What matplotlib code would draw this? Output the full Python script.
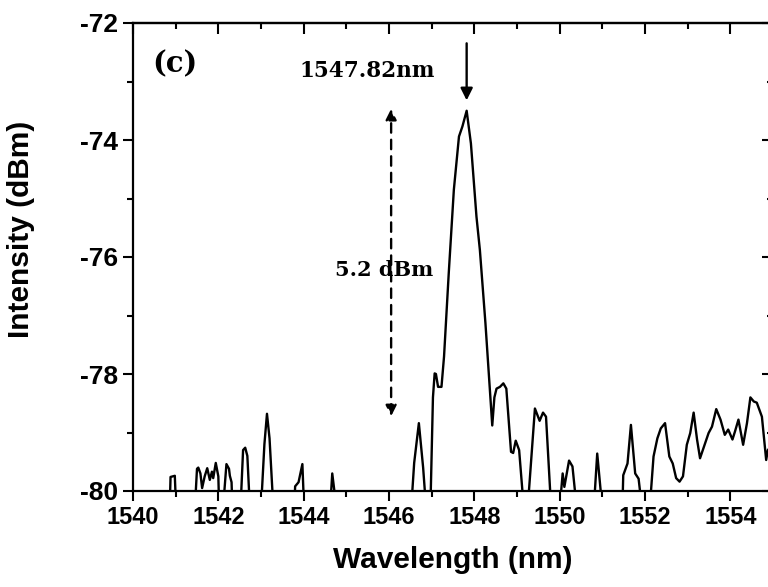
import numpy as np
import matplotlib.pyplot as plt
from matplotlib.ticker import MultipleLocator

plt.rcParams['axes.unicode_minus'] = False

# spectrum (values below -80 are clipped by the axis)
wavelength = [1540.0, 1540.86, 1540.88, 1540.98, 1541.01, 1541.45, 1541.50, 1541.53, 1541.58,
              1541.62, 1541.68, 1541.74, 1541.80, 1541.85, 1541.88, 1541.94, 1542.00, 1542.02,
              1542.11, 1542.19, 1542.25, 1542.27, 1542.31, 1542.33, 1542.52, 1542.58, 1542.63,
              1542.68, 1542.74, 1543.00, 1543.08, 1543.14, 1543.20, 1543.29, 1543.78, 1543.80,
              1543.88, 1543.97, 1544.01, 1544.62, 1544.67, 1544.72, 1544.74, 1546.52, 1546.59,
              1546.70, 1546.80, 1546.87, 1546.97, 1547.03, 1547.07, 1547.10, 1547.15, 1547.23,
              1547.29, 1547.40, 1547.52, 1547.62, 1547.64, 1547.72, 1547.82, 1547.92, 1548.05,
              1548.13, 1548.26, 1548.42, 1548.47, 1548.52, 1548.60, 1548.68, 1548.75, 1548.86,
              1548.91, 1548.97, 1549.05, 1549.16, 1549.25, 1549.42, 1549.53, 1549.61, 1549.68,
              1549.80, 1550.00, 1550.07, 1550.11, 1550.22, 1550.30, 1550.40, 1550.80, 1550.88,
              1551.00, 1551.47, 1551.49, 1551.59, 1551.67, 1551.77, 1551.85, 1551.93, 1552.11,
              1552.20, 1552.29, 1552.37, 1552.47, 1552.57, 1552.65, 1552.73, 1552.81, 1552.89,
              1552.98, 1553.06, 1553.14, 1553.22, 1553.29, 1553.37, 1553.49, 1553.57, 1553.67,
              1553.77, 1553.87, 1553.95, 1554.05, 1554.11, 1554.19, 1554.30, 1554.39, 1554.47,
              1554.55, 1554.62, 1554.74, 1554.84, 1554.88, 1555.0]
intensity = [-80.3, -80.3, -79.76, -79.74, -80.3, -80.3, -79.62, -79.60, -79.70,
             -79.95, -79.75, -79.61, -79.81, -79.67, -79.78, -79.52, -79.75, -80.3,
             -80.3, -79.54, -79.62, -79.74, -79.85, -80.3, -80.3, -79.30, -79.26,
             -79.40, -80.3, -80.3, -79.2, -78.68, -79.1, -80.3, -80.3, -79.92,
             -79.85, -79.54, -80.3, -80.3, -79.70, -80.0, -80.3, -80.3, -79.52,
             -78.84, -79.6, -80.3, -80.3, -78.4, -77.99, -78.00, -78.22, -78.22,
             -77.70, -76.28, -74.85, -74.1, -73.94, -73.77, -73.50, -74.06, -75.31,
             -75.88, -77.13, -78.88, -78.40, -78.25, -78.22, -78.16, -78.25, -79.33,
             -79.35, -79.14, -79.30, -80.3, -80.3, -78.59, -78.80, -78.66, -78.73,
             -80.3, -80.3, -79.70, -79.93, -79.48, -79.58, -80.3, -80.3, -79.36,
             -80.3, -80.3, -79.73, -79.53, -78.87, -79.70, -79.79, -80.3, -80.3,
             -79.41, -79.10, -78.93, -78.84, -79.41, -79.53, -79.78, -79.84, -79.75,
             -79.21, -79.01, -78.66, -79.12, -79.44, -79.27, -79.01, -78.90, -78.60,
             -78.78, -79.04, -78.95, -79.12, -78.98, -78.78, -79.21, -78.84, -78.40,
             -78.47, -78.49, -78.73, -79.47, -79.30, -79.2]

peak_wl = 1547.82
peak_label = '1547.82nm'
span_label = '5.2 dBm'
span_top = -73.42
span_bottom = -78.77
span_x = 1546.05

sans = ['Liberation Sans', 'DejaVu Sans']
serif = ['DejaVu Serif']

fig = plt.figure(figsize=(7.68, 5.87), dpi=100)
ax = fig.add_axes([133 / 768, 96 / 587, 640 / 768, 468 / 587])

ax.plot(wavelength, intensity, color='black', lw=1.7)
ax.set_xlim(1540, 1555)
ax.set_ylim(-80, -72)

ax.xaxis.set_major_locator(MultipleLocator(2))
ax.xaxis.set_minor_locator(MultipleLocator(1))
ax.yaxis.set_major_locator(MultipleLocator(2))
ax.yaxis.set_minor_locator(MultipleLocator(1))
ax.tick_params(which='both', direction='out', width=1.5)
ax.tick_params(which='major', length=7)
ax.tick_params(which='minor', length=4)
ax.tick_params(axis='x', labelsize=17, pad=4)
ax.tick_params(axis='y', labelsize=19, pad=4)
for lab in ax.get_xticklabels() + ax.get_yticklabels():
    lab.set_family(sans)
    lab.set_fontweight('bold')
for sp in ax.spines.values():
    sp.set_linewidth(1.6)

# top and right ticks point inward
top = ax.secondary_xaxis('top')
top.xaxis.set_major_locator(MultipleLocator(2))
top.xaxis.set_minor_locator(MultipleLocator(1))
top.tick_params(which='both', direction='in', width=1.5, labeltop=False)
top.tick_params(which='major', length=8)
top.tick_params(which='minor', length=4)
top.spines['top'].set_linewidth(1.6)
right = ax.secondary_yaxis('right')
right.yaxis.set_major_locator(MultipleLocator(2))
right.yaxis.set_minor_locator(MultipleLocator(1))
right.tick_params(which='both', direction='in', width=1.5, labelright=False)
right.tick_params(which='major', length=8)
right.tick_params(which='minor', length=4)

ax.set_xlabel('Wavelength (nm)', family=sans, fontweight='bold', fontsize=21.5, labelpad=12)
ax.set_ylabel('Intensity (dBm)', family=sans, fontweight='bold', fontsize=21.5)
ax.yaxis.set_label_coords(-0.153, 0.56)

ax.text(1540.45, -72.7, '(c)', family=serif, fontweight='bold', fontsize=21, va='center')
ax.text(1545.48, -72.82, peak_label, family=serif, fontweight='bold', fontsize=15.5,
        ha='center', va='center')
ax.annotate('', xy=(peak_wl, -73.37), xytext=(peak_wl, -72.3),
            arrowprops=dict(arrowstyle='-|>', color='black', lw=1.7, mutation_scale=18))

ax.text(1545.88, -76.22, span_label, family=serif, fontweight='bold', fontsize=15,
        ha='center', va='center')
ax.annotate('', xy=(span_x, span_top), xytext=(span_x, span_bottom),
            arrowprops=dict(arrowstyle='<|-|>', color='black', lw=1.7, ls=(0, (4, 3)),
                            mutation_scale=16))

fig.savefig('out.png', dpi=100)
